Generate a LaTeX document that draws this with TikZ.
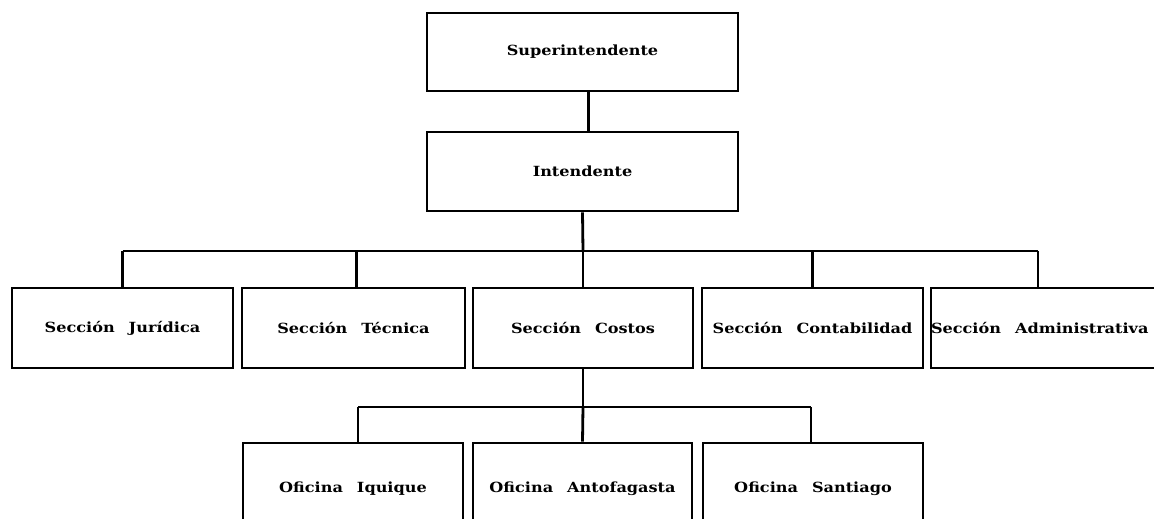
\documentclass[tikz,border=0pt]{standalone}
\usepackage{fontspec}
\setmainfont{DejaVu Serif}[FakeStretch=1.15]
\newcommand{\gp}{\hspace{14pt}}
\begin{document}
\begin{tikzpicture}[x=1pt,y=-1pt,
  box/.style={draw, line width=2.8pt, inner sep=0pt, font=\fontsize{14}{16}\selectfont\bfseries},
  conn/.style={draw, line width=2.8pt}]
\useasboundingbox (0,0) rectangle (1154,519);
\clip (0,0) rectangle (1154,519);
\fill[white] (0,0) rectangle (1154,519);
% top
\node[box, minimum width=311, minimum height=78] (sup) at (582.5,52) {Superintendente};
\node[box, minimum width=311, minimum height=79] (int) at (582.5,171.5) {Intendente};
% sections
\node[box, minimum width=221, minimum height=80] (jur) at (122.5,328) {Sección\gp Jurídica};
\node[box, minimum width=223, minimum height=80] (tec) at (353.5,328) {Sección\gp Técnica};
\node[box, minimum width=220, minimum height=80] (cos) at (583,328) {Sección\gp Costos};
\node[box, minimum width=221, minimum height=80] (con) at (812.5,328) {Sección\gp Contabilidad};
\node[box, minimum height=80, text width=250, align=left] (adm) at (1056,328) {Sección\gp Administrativa};
% offices
\node[box, minimum width=220, minimum height=92] (iq) at (353,489) {Oficina\gp Iquique};
\node[box, minimum width=219, minimum height=92] (an) at (582.5,489) {Oficina\gp Antofagasta};
\node[box, minimum width=220, minimum height=92] (sa) at (813,489) {Oficina\gp Santiago};
% connectors
\coordinate (hub) at (583,251);
\coordinate (admtop) at (1038,288);
\coordinate (hub2) at (583,407);
\draw[conn] ([xshift=6pt]sup.south) -- ([xshift=6pt]int.north);
\draw[conn] (int.south) -- (hub);
\draw[conn] (jur.north |- hub) -- (admtop |- hub);
\draw[conn] (jur.north |- hub) -- (jur.north);
\draw[conn] ([xshift=3pt]tec.north |- hub) -- ([xshift=3pt]tec.north);
\draw[conn] (hub) -- (cos.north);
\draw[conn] (con.north |- hub) -- (con.north);
\draw[conn] (admtop |- hub) -- (admtop);
\draw[conn] (cos.south) -- (hub2);
\draw[conn] ([xshift=5pt]iq.north |- hub2) -- ([xshift=-2pt]sa.north |- hub2);
\draw[conn] ([xshift=5pt]iq.north |- hub2) -- ([xshift=5pt]iq.north);
\draw[conn] (hub2) -- (an.north);
\draw[conn] ([xshift=-2pt]sa.north |- hub2) -- ([xshift=-2pt]sa.north);
\end{tikzpicture}
\end{document}
